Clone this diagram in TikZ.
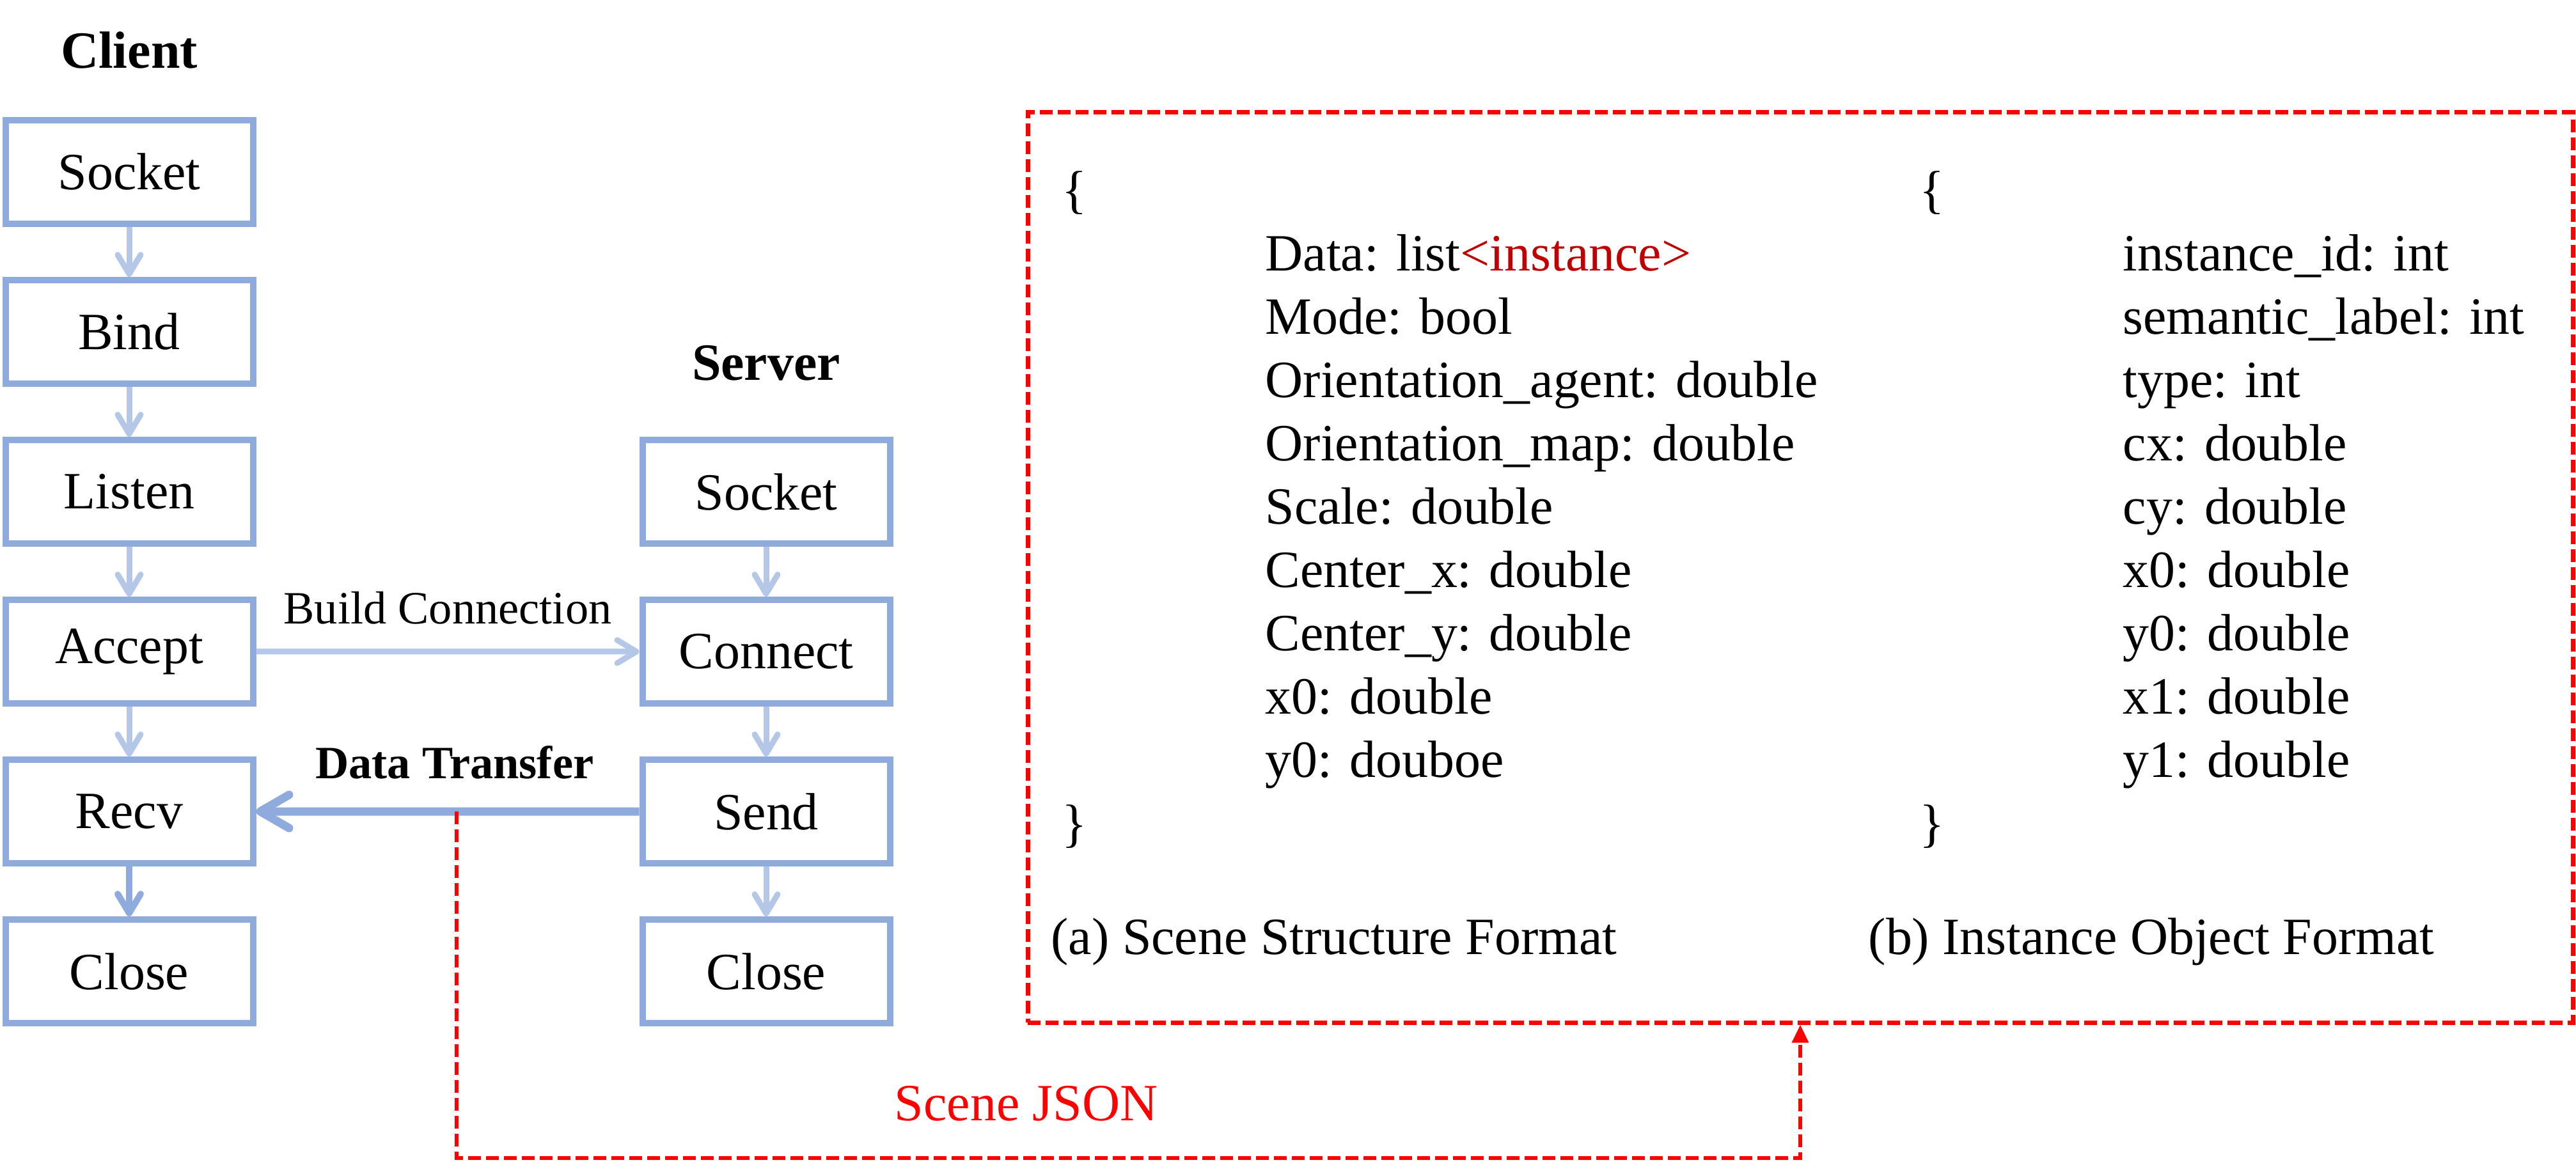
\documentclass[tikz,border=0pt]{standalone}
\usepackage{fontspec}
\setmainfont{Liberation Serif}
\usetikzlibrary{arrows.meta}
\usetikzlibrary{positioning}

\definecolor{boxblue}{HTML}{8FAADC}
\definecolor{lineblue}{HTML}{B4C7E7}
\definecolor{typered}{HTML}{C00000}

\newcommand{\bigtxt}{\fontsize{23.3}{28}\selectfont}
\newcommand{\smalltxt}{\fontsize{20.6}{25}\selectfont}

\begin{document}
\begin{tikzpicture}[>={Straight Barb[length=0.3cm, width=0.36cm, round]},
    node distance = 0.78cm,
    sockbox/.style = {draw=boxblue, line width=0.1cm, minimum width=3.87cm, minimum height=1.62cm, inner sep=0pt, font=\bigtxt},
    flow/.style = {->, draw=lineblue, line width=0.09cm},
    title/.style = {anchor=base, inner sep=0pt, font=\bigtxt\bfseries},
    field/.style = {anchor=base west, inner sep=0pt, font=\bigtxt},
    reddash/.style = {draw=red, line width=0.07cm, dash pattern=on 0.2cm off 0.08cm}]

    \useasboundingbox (0,0) rectangle (40.28,18.24);

    % client side
    \node[sockbox] (csocket) at (2.02,15.55) {Socket};
    \node[sockbox, below=of csocket] (cbind) {Bind};
    \node[sockbox, below=of cbind] (clisten) {Listen};
    \node[sockbox, below=of clisten] (caccept) {Accept};
    \node[sockbox, below=of caccept] (crecv) {Recv};
    \node[sockbox, below=of crecv] (cclose) {Close};
    \node[title] (client) at (2.02,17.17) {Client};

    \draw[flow] (csocket) -- (cbind);
    \draw[flow] (cbind) -- (clisten);
    \draw[flow] (clisten) -- (caccept);
    \draw[flow] (caccept) -- (crecv);
    \draw[flow, draw=boxblue, line width=0.1cm] (crecv) -- (cclose);

    % server side
    \node[sockbox] (ssocket) at (11.98,10.55) {Socket};
    \node[sockbox, below=of ssocket] (sconnect) {Connect};
    \node[sockbox, below=of sconnect] (ssend) {Send};
    \node[sockbox, below=of ssend] (sclose) {Close};
    \node[title] (server) at (11.98,12.29) {Server};

    \draw[flow] (ssocket) -- (sconnect);
    \draw[flow] (sconnect) -- (ssend);
    \draw[flow] (ssend) -- (sclose);

    % connection and transfer
    \draw[flow] (caccept) -- node[anchor=base, yshift=0.43cm, inner sep=0pt, font=\smalltxt] (buildlbl) {Build Connection} (sconnect);
    \draw[->, draw=boxblue, line width=0.13cm, >={Straight Barb[length=0.45cm, width=0.52cm, round]}]
        (ssend) -- coordinate[pos=0.477] (tap)
        node[pos=0.482, anchor=base, yshift=0.52cm, inner sep=0pt, font=\smalltxt\bfseries] (datalbl) {Data Transfer} (crecv);

    % json formats
    \node[reddash, minimum width=24.16cm, minimum height=14.23cm, inner sep=0pt] (jsonbox) at (28.15,9.365) {};

    \node[field] (lopen) at (16.60,14.99) {\{};
    \node[field] (sdata) at (19.78,14.00) {Data: list\textcolor{typered}{<instance>}};
    \node[field] (smode) at (19.78,13.01) {Mode: bool};
    \node[field] (sorag) at (19.78,12.02) {Orientation\_agent: double};
    \node[field] (sormap) at (19.78,11.03) {Orientation\_map: double};
    \node[field] (sscale) at (19.78,10.04) {Scale: double};
    \node[field] (scx) at (19.78,9.05) {Center\_x: double};
    \node[field] (scy) at (19.78,8.06) {Center\_y: double};
    \node[field] (sxo) at (19.78,7.07) {x0: double};
    \node[field] (syo) at (19.78,6.08) {y0: douboe};
    \node[field] (lclose) at (16.60,5.09) {\}};
    \node[field] (capa) at (16.43,3.32) {(a) Scene Structure Format};

    \node[field] (ropen) at (30.01,14.99) {\{};
    \node[field] (iid) at (33.19,14.00) {instance\_id: int};
    \node[field] (ilabel) at (33.19,13.01) {semantic\_label: int};
    \node[field] (itype) at (33.19,12.02) {type: int};
    \node[field] (icx) at (33.19,11.03) {cx: double};
    \node[field] (icy) at (33.19,10.04) {cy: double};
    \node[field] (ixo) at (33.19,9.05) {x0: double};
    \node[field] (iyo) at (33.19,8.06) {y0: double};
    \node[field] (ixi) at (33.19,7.07) {x1: double};
    \node[field] (iyi) at (33.19,6.08) {y1: double};
    \node[field] (rclose) at (30.01,5.09) {\}};
    \node[field] (capb) at (29.21,3.32) {(b) Instance Object Format};

    % scene json link
    \coordinate (linkbot) at (7.14,0.13);
    \draw[reddash, line width=0.06cm, -{Triangle[length=0.28cm, width=0.25cm]}]
        (tap) |- node[pos=0.712, anchor=base, yshift=0.59cm, inner sep=0pt, font=\bigtxt, text=red] (scenelbl) {Scene JSON}
        (jsonbox.south |- linkbot) -- (jsonbox.south);

\end{tikzpicture}
\end{document}
